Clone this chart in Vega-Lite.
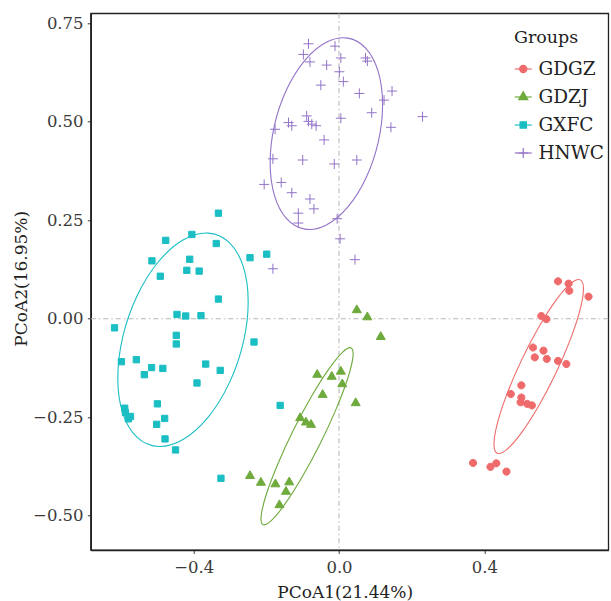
{
  "$schema": "https://vega.github.io/schema/vega-lite/v6.json",
  "width": 517.6,
  "height": 536.7,
  "autosize": {"type": "none"},
  "padding": {"left": 90.7, "top": 13.3, "right": 3, "bottom": 51},
  "background": "white",
  "config": {
    "view": {"stroke": "#222222", "strokeWidth": 1.3},
    "font": "DejaVu Serif",
    "axis": {
      "grid": false,
      "labelFont": "DejaVu Serif",
      "labelFontSize": 16.5,
      "labelColor": "#3a3a3a",
      "titleFont": "DejaVu Serif",
      "titleFontSize": 17,
      "titleFontWeight": "normal",
      "titleColor": "#222222",
      "domainColor": "#222222",
      "domainWidth": 1.6,
      "tickColor": "#333333",
      "tickWidth": 1,
      "tickSize": 3.4
    },
    "legend": {
      "orient": "none",
      "legendX": 423.3,
      "legendY": 15.9,
      "padding": 0,
      "titleFont": "DejaVu Serif",
      "titleFontSize": 17.5,
      "titleFontWeight": "normal",
      "titleColor": "#222222",
      "titlePadding": 12.3,
      "labelFont": "DejaVu Serif",
      "labelFontSize": 18.5,
      "labelColor": "#222222",
      "labelOffset": 6,
      "symbolSize": 100,
      "symbolStrokeWidth": 1.2,
      "rowPadding": 8,
      "clipHeight": 20
    }
  },
  "datasets": {
    "points": [
      {"group": "GDGZ", "x": 0.603, "y": 0.095},
      {"group": "GDGZ", "x": 0.632, "y": 0.089},
      {"group": "GDGZ", "x": 0.634, "y": 0.071},
      {"group": "GDGZ", "x": 0.687, "y": 0.056},
      {"group": "GDGZ", "x": 0.557, "y": 0.007},
      {"group": "GDGZ", "x": 0.571, "y": -0.001},
      {"group": "GDGZ", "x": 0.534, "y": -0.073},
      {"group": "GDGZ", "x": 0.563, "y": -0.081},
      {"group": "GDGZ", "x": 0.539, "y": -0.098},
      {"group": "GDGZ", "x": 0.572, "y": -0.102},
      {"group": "GDGZ", "x": 0.603, "y": -0.107},
      {"group": "GDGZ", "x": 0.626, "y": -0.115},
      {"group": "GDGZ", "x": 0.502, "y": -0.169},
      {"group": "GDGZ", "x": 0.473, "y": -0.191},
      {"group": "GDGZ", "x": 0.502, "y": -0.2},
      {"group": "GDGZ", "x": 0.5, "y": -0.212},
      {"group": "GDGZ", "x": 0.518, "y": -0.216},
      {"group": "GDGZ", "x": 0.531, "y": -0.22},
      {"group": "GDGZ", "x": 0.369, "y": -0.366},
      {"group": "GDGZ", "x": 0.417, "y": -0.376},
      {"group": "GDGZ", "x": 0.433, "y": -0.367},
      {"group": "GDGZ", "x": 0.461, "y": -0.388},
      {"group": "GDZJ", "x": 0.049, "y": 0.022},
      {"group": "GDZJ", "x": 0.078, "y": 0.004},
      {"group": "GDZJ", "x": 0.115, "y": -0.046},
      {"group": "GDZJ", "x": -0.06, "y": -0.142},
      {"group": "GDZJ", "x": -0.02, "y": -0.147},
      {"group": "GDZJ", "x": 0.005, "y": -0.134},
      {"group": "GDZJ", "x": 0.009, "y": -0.166},
      {"group": "GDZJ", "x": -0.045, "y": -0.193},
      {"group": "GDZJ", "x": 0.046, "y": -0.214},
      {"group": "GDZJ", "x": -0.107, "y": -0.252},
      {"group": "GDZJ", "x": -0.091, "y": -0.263},
      {"group": "GDZJ", "x": -0.077, "y": -0.269},
      {"group": "GDZJ", "x": -0.245, "y": -0.399},
      {"group": "GDZJ", "x": -0.215, "y": -0.416},
      {"group": "GDZJ", "x": -0.175, "y": -0.42},
      {"group": "GDZJ", "x": -0.137, "y": -0.415},
      {"group": "GDZJ", "x": -0.146, "y": -0.439},
      {"group": "GDZJ", "x": -0.164, "y": -0.473},
      {"group": "GXFC", "x": -0.332, "y": 0.268},
      {"group": "GXFC", "x": -0.405, "y": 0.214},
      {"group": "GXFC", "x": -0.477, "y": 0.199},
      {"group": "GXFC", "x": -0.338, "y": 0.191},
      {"group": "GXFC", "x": -0.515, "y": 0.147},
      {"group": "GXFC", "x": -0.411, "y": 0.151},
      {"group": "GXFC", "x": -0.245, "y": 0.155},
      {"group": "GXFC", "x": -0.199, "y": 0.164},
      {"group": "GXFC", "x": -0.419, "y": 0.123},
      {"group": "GXFC", "x": -0.385, "y": 0.121},
      {"group": "GXFC", "x": -0.492, "y": 0.108},
      {"group": "GXFC", "x": -0.332, "y": 0.05},
      {"group": "GXFC", "x": -0.446, "y": 0.011},
      {"group": "GXFC", "x": -0.422, "y": 0.007},
      {"group": "GXFC", "x": -0.38, "y": 0.008},
      {"group": "GXFC", "x": -0.618, "y": -0.023},
      {"group": "GXFC", "x": -0.448, "y": -0.042},
      {"group": "GXFC", "x": -0.448, "y": -0.064},
      {"group": "GXFC", "x": -0.234, "y": -0.059},
      {"group": "GXFC", "x": -0.599, "y": -0.109},
      {"group": "GXFC", "x": -0.558, "y": -0.104},
      {"group": "GXFC", "x": -0.516, "y": -0.124},
      {"group": "GXFC", "x": -0.485, "y": -0.126},
      {"group": "GXFC", "x": -0.536, "y": -0.142},
      {"group": "GXFC", "x": -0.367, "y": -0.115},
      {"group": "GXFC", "x": -0.327, "y": -0.131},
      {"group": "GXFC", "x": -0.391, "y": -0.163},
      {"group": "GXFC", "x": -0.5, "y": -0.216},
      {"group": "GXFC", "x": -0.162, "y": -0.22},
      {"group": "GXFC", "x": -0.59, "y": -0.227},
      {"group": "GXFC", "x": -0.588, "y": -0.238},
      {"group": "GXFC", "x": -0.574, "y": -0.248},
      {"group": "GXFC", "x": -0.58, "y": -0.254},
      {"group": "GXFC", "x": -0.48, "y": -0.253},
      {"group": "GXFC", "x": -0.502, "y": -0.268},
      {"group": "GXFC", "x": -0.479, "y": -0.305},
      {"group": "GXFC", "x": -0.45, "y": -0.333},
      {"group": "GXFC", "x": -0.325, "y": -0.405},
      {"group": "HNWC", "x": -0.084, "y": 0.698},
      {"group": "HNWC", "x": -0.011, "y": 0.692},
      {"group": "HNWC", "x": -0.098, "y": 0.671},
      {"group": "HNWC", "x": -0.08, "y": 0.652},
      {"group": "HNWC", "x": 0.005, "y": 0.662},
      {"group": "HNWC", "x": -0.034, "y": 0.644},
      {"group": "HNWC", "x": 0.073, "y": 0.662},
      {"group": "HNWC", "x": 0.078, "y": 0.654},
      {"group": "HNWC", "x": 0.001, "y": 0.627},
      {"group": "HNWC", "x": 0.012, "y": 0.602},
      {"group": "HNWC", "x": -0.05, "y": 0.593},
      {"group": "HNWC", "x": 0.056, "y": 0.572},
      {"group": "HNWC", "x": 0.146, "y": 0.578},
      {"group": "HNWC", "x": 0.124, "y": 0.555},
      {"group": "HNWC", "x": 0.09, "y": 0.523},
      {"group": "HNWC", "x": 0.23, "y": 0.513},
      {"group": "HNWC", "x": 0.005, "y": 0.509},
      {"group": "HNWC", "x": -0.089, "y": 0.515},
      {"group": "HNWC", "x": -0.084, "y": 0.501},
      {"group": "HNWC", "x": -0.139, "y": 0.498},
      {"group": "HNWC", "x": -0.13, "y": 0.49},
      {"group": "HNWC", "x": -0.075, "y": 0.494},
      {"group": "HNWC", "x": -0.063, "y": 0.49},
      {"group": "HNWC", "x": 0.143, "y": 0.486},
      {"group": "HNWC", "x": -0.176, "y": 0.481},
      {"group": "HNWC", "x": -0.041, "y": 0.454},
      {"group": "HNWC", "x": -0.182, "y": 0.406},
      {"group": "HNWC", "x": -0.1, "y": 0.403},
      {"group": "HNWC", "x": -0.013, "y": 0.393},
      {"group": "HNWC", "x": 0.049, "y": 0.403},
      {"group": "HNWC", "x": -0.206, "y": 0.341},
      {"group": "HNWC", "x": -0.159, "y": 0.346},
      {"group": "HNWC", "x": -0.13, "y": 0.32},
      {"group": "HNWC", "x": -0.08, "y": 0.304},
      {"group": "HNWC", "x": -0.069, "y": 0.279},
      {"group": "HNWC", "x": -0.112, "y": 0.268},
      {"group": "HNWC", "x": -0.112, "y": 0.243},
      {"group": "HNWC", "x": -0.005, "y": 0.254},
      {"group": "HNWC", "x": 0.003, "y": 0.203},
      {"group": "HNWC", "x": 0.044, "y": 0.15},
      {"group": "HNWC", "x": -0.182, "y": 0.127}
    ],
    "ellipses": [
      {"group": "GDGZ", "i": 0, "x": 0.6644, "y": 0.0987},
      {"group": "GDGZ", "i": 1, "x": 0.6731, "y": 0.0743},
      {"group": "GDGZ", "i": 2, "x": 0.6629, "y": 0.0201},
      {"group": "GDGZ", "i": 3, "x": 0.6357, "y": -0.0555},
      {"group": "GDGZ", "i": 4, "x": 0.5953, "y": -0.1413},
      {"group": "GDGZ", "i": 5, "x": 0.548, "y": -0.2241},
      {"group": "GDGZ", "i": 6, "x": 0.5011, "y": -0.291},
      {"group": "GDGZ", "i": 7, "x": 0.4615, "y": -0.3322},
      {"group": "GDGZ", "i": 8, "x": 0.4354, "y": -0.3413},
      {"group": "GDGZ", "i": 9, "x": 0.4267, "y": -0.3169},
      {"group": "GDGZ", "i": 10, "x": 0.4369, "y": -0.2626},
      {"group": "GDGZ", "i": 11, "x": 0.4641, "y": -0.187},
      {"group": "GDGZ", "i": 12, "x": 0.5045, "y": -0.1012},
      {"group": "GDGZ", "i": 13, "x": 0.5518, "y": -0.0185},
      {"group": "GDGZ", "i": 14, "x": 0.5987, "y": 0.0485},
      {"group": "GDGZ", "i": 15, "x": 0.6383, "y": 0.0897},
      {"group": "GDZJ", "i": 0, "x": 0.0334, "y": -0.074},
      {"group": "GDZJ", "i": 1, "x": 0.0383, "y": -0.0975},
      {"group": "GDZJ", "i": 2, "x": 0.024, "y": -0.1517},
      {"group": "GDZJ", "i": 3, "x": -0.0074, "y": -0.2281},
      {"group": "GDZJ", "i": 4, "x": -0.051, "y": -0.3152},
      {"group": "GDZJ", "i": 5, "x": -0.1003, "y": -0.3998},
      {"group": "GDZJ", "i": 6, "x": -0.1476, "y": -0.4688},
      {"group": "GDZJ", "i": 7, "x": -0.1859, "y": -0.512},
      {"group": "GDZJ", "i": 8, "x": -0.2093, "y": -0.5226},
      {"group": "GDZJ", "i": 9, "x": -0.2141, "y": -0.499},
      {"group": "GDZJ", "i": 10, "x": -0.1998, "y": -0.4448},
      {"group": "GDZJ", "i": 11, "x": -0.1684, "y": -0.3685},
      {"group": "GDZJ", "i": 12, "x": -0.1248, "y": -0.2813},
      {"group": "GDZJ", "i": 13, "x": -0.0755, "y": -0.1967},
      {"group": "GDZJ", "i": 14, "x": -0.0282, "y": -0.1278},
      {"group": "GDZJ", "i": 15, "x": 0.0101, "y": -0.0845},
      {"group": "GXFC", "i": 0, "x": -0.25, "y": 0.0432},
      {"group": "GXFC", "i": 1, "x": -0.2637, "y": -0.061},
      {"group": "GXFC", "i": 2, "x": -0.3026, "y": -0.164},
      {"group": "GXFC", "i": 3, "x": -0.3607, "y": -0.2503},
      {"group": "GXFC", "i": 4, "x": -0.4295, "y": -0.3065},
      {"group": "GXFC", "i": 5, "x": -0.4983, "y": -0.3243},
      {"group": "GXFC", "i": 6, "x": -0.5564, "y": -0.3007},
      {"group": "GXFC", "i": 7, "x": -0.5953, "y": -0.2397},
      {"group": "GXFC", "i": 8, "x": -0.609, "y": -0.1501},
      {"group": "GXFC", "i": 9, "x": -0.5953, "y": -0.0458},
      {"group": "GXFC", "i": 10, "x": -0.5564, "y": 0.0571},
      {"group": "GXFC", "i": 11, "x": -0.4983, "y": 0.1434},
      {"group": "GXFC", "i": 12, "x": -0.4295, "y": 0.1997},
      {"group": "GXFC", "i": 13, "x": -0.3607, "y": 0.2174},
      {"group": "GXFC", "i": 14, "x": -0.3026, "y": 0.1939},
      {"group": "GXFC", "i": 15, "x": -0.2637, "y": 0.1328},
      {"group": "HNWC", "i": 0, "x": 0.12, "y": 0.5434},
      {"group": "HNWC", "i": 1, "x": 0.1082, "y": 0.449},
      {"group": "HNWC", "i": 2, "x": 0.0746, "y": 0.3579},
      {"group": "HNWC", "i": 3, "x": 0.0245, "y": 0.2839},
      {"group": "HNWC", "i": 4, "x": -0.0348, "y": 0.2381},
      {"group": "HNWC", "i": 5, "x": -0.094, "y": 0.2276},
      {"group": "HNWC", "i": 6, "x": -0.1442, "y": 0.2542},
      {"group": "HNWC", "i": 7, "x": -0.1778, "y": 0.3134},
      {"group": "HNWC", "i": 8, "x": -0.1896, "y": 0.3965},
      {"group": "HNWC", "i": 9, "x": -0.1778, "y": 0.4909},
      {"group": "HNWC", "i": 10, "x": -0.1442, "y": 0.582},
      {"group": "HNWC", "i": 11, "x": -0.094, "y": 0.6561},
      {"group": "HNWC", "i": 12, "x": -0.0348, "y": 0.7018},
      {"group": "HNWC", "i": 13, "x": 0.0245, "y": 0.7123},
      {"group": "HNWC", "i": 14, "x": 0.0746, "y": 0.6857},
      {"group": "HNWC", "i": 15, "x": 0.1082, "y": 0.6265}
    ],
    "refx": [{"ref": 0}],
    "refy": [{"ref": 0}]
  },
  "layer": [
    {
      "data": {"name": "refx"},
      "mark": {"type": "rule", "color": "#b3b3b3", "strokeWidth": 1, "strokeDash": [5, 3, 1.5, 3]},
      "encoding": {
        "x": {"field": "ref", "type": "quantitative", "scale": {"domain": [-0.6836, 0.7414], "nice": false, "zero": false}}
      }
    },
    {
      "data": {"name": "refy"},
      "mark": {"type": "rule", "color": "#b3b3b3", "strokeWidth": 1, "strokeDash": [5, 3, 1.5, 3]},
      "encoding": {
        "y": {"field": "ref", "type": "quantitative", "scale": {"domain": [-0.587, 0.7754], "nice": false, "zero": false}}
      }
    },
    {
      "data": {"name": "points"},
      "mark": {"type": "point", "opacity": 1, "strokeWidth": 1, "size": 100},
      "encoding": {
        "x": {
          "field": "x", "type": "quantitative",
          "scale": {"domain": [-0.6836, 0.7414], "nice": false, "zero": false},
          "axis": {"values": [-0.4, 0, 0.4], "format": ".1f", "title": "PCoA1(21.44%)", "labelPadding": 6.6, "titleX": 254, "titleY": 48, "titleBaseline": "alphabetic", "titleAlign": "center"}
        },
        "y": {
          "field": "y", "type": "quantitative",
          "scale": {"domain": [-0.587, 0.7754], "nice": false, "zero": false},
          "axis": {"values": [-0.5, -0.25, 0, 0.25, 0.5, 0.75], "format": ".2f", "title": "PCoA2(16.95%)", "labelPadding": 4.2, "titleX": -68.7, "titleY": 265, "titleAngle": -90, "titleAlign": "center", "titleBaseline": "middle"}
        },
        "shape": {
          "field": "group", "type": "nominal", "title": "Groups",
          "scale": {
            "domain": ["GDGZ", "GDZJ", "GXFC", "HNWC"],
            "range": [
              "M0.72,0A0.72,0.72 0 1,1 -0.72,0A0.72,0.72 0 1,1 0.72,0Z",
              "M0,-1.04L0.9,0.52L-0.9,0.52Z",
              "M-0.63,-0.63H0.63V0.63H-0.63Z",
              "M-1,0H1M0,-1V1"
            ]
          }
        },
        "fill": {
          "field": "group", "type": "nominal", "title": "Groups",
          "scale": {"domain": ["GDGZ", "GDZJ", "GXFC", "HNWC"], "range": ["#EF6B6B", "#6EAA3C", "#1ABEC3", "transparent"]}
        },
        "stroke": {
          "field": "group", "type": "nominal", "title": "Groups",
          "scale": {"domain": ["GDGZ", "GDZJ", "GXFC", "HNWC"], "range": ["#EF6B6B", "#6EAA3C", "#1ABEC3", "#9372C8"]}
        }
      }
    },
    {
      "data": {"name": "ellipses"},
      "mark": {"type": "line", "interpolate": "cardinal-closed", "strokeWidth": 1.1},
      "encoding": {
        "x": {"field": "x", "type": "quantitative"},
        "y": {"field": "y", "type": "quantitative"},
        "color": {
          "field": "group", "type": "nominal", "title": "Groups",
          "scale": {"range": ["#EF6B6B", "#6EAA3C", "#1ABEC3", "#9372C8"]},
          "legend": {
            "symbolType": "M-1.7,0H1.7",
            "symbolStrokeWidth": 1.2,
            "titleColor": "transparent",
            "labelColor": "transparent"
          }
        },
        "order": {"field": "i", "type": "quantitative"}
      }
    }
  ]
}
